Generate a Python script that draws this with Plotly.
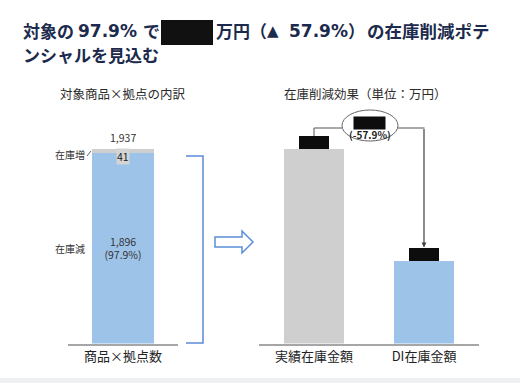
import plotly.graph_objects as go

# ---------------- data ----------------
left_category = ["商品×拠点数"]
left_decrease = [1896]        # 在庫減
left_increase = [41]          # 在庫増
left_total = [1937]
left_series_names = ["在庫減", "在庫増"]

right_categories = ["実績在庫金額", "DI在庫金額"]
right_values = [100.0, 42.1]  # index (actual amounts redacted in source)

title_line2 = "ンシャルを見込む"
left_subtitle = "対象商品×拠点の内訳"
right_subtitle = "在庫削減効果（単位：万円）"

# ---------------- helpers ----------------
W, H = 520, 383
JP = "Noto Sans CJK JP"
BLUE = "#9dc3e9"
GRAY = "#cfcfcf"
NAVY = "#1c2a4d"


def px(x):
    return x / W


def py(y):
    return 1 - y / H


base_px = 343.5
plot_h = 230.0
y_domain = [py(base_px), py(base_px - plot_h)]
left_max = left_total[0] * plot_h / 195.0
right_max = right_values[0] * plot_h / 195.0
pct_left = left_decrease[0] / left_total[0] * 100
pct_right = (right_values[1] / right_values[0] - 1) * 100

fig = go.Figure()

fig.add_trace(go.Bar(
    x=left_category, y=left_decrease, name=left_series_names[0],
    marker=dict(color=BLUE, line=dict(width=0)), width=0.56,
    text=[f"{left_decrease[0]:,}<br>({pct_left:.1f}%)"],
    textposition="inside", insidetextanchor="middle",
    textfont=dict(family=JP, size=10.5, color="#333333"),
    xaxis="x", yaxis="y", showlegend=False, hoverinfo="skip"))
fig.add_trace(go.Bar(
    x=left_category, y=left_increase, name=left_series_names[1],
    marker=dict(color=GRAY, line=dict(width=0)), width=0.56,
    xaxis="x", yaxis="y", showlegend=False, hoverinfo="skip"))
fig.add_trace(go.Bar(
    x=right_categories, y=right_values,
    marker=dict(color=[GRAY, BLUE], line=dict(width=0)), width=0.55,
    xaxis="x2", yaxis="y2", showlegend=False, hoverinfo="skip"))

axis_common = dict(showgrid=False, zeroline=False, ticks="",
                   showline=True, linecolor="#a6a6a6", linewidth=1.5,
                   tickfont=dict(family=JP, size=13, color="#222222"),
                   fixedrange=True)
fig.update_layout(
    width=W, height=H, margin=dict(l=0, r=0, t=0, b=0),
    paper_bgcolor="white", plot_bgcolor="rgba(0,0,0,0)",
    barmode="stack", hovermode=False,
    xaxis=dict(domain=[px(68), px(178)], range=[-0.5, 0.5], anchor="y", **axis_common),
    yaxis=dict(domain=y_domain, range=[0, left_max], visible=False, fixedrange=True),
    xaxis2=dict(domain=[px(259), px(479)], range=[-0.5, 1.5], anchor="y2", **axis_common),
    yaxis2=dict(domain=y_domain, range=[0, right_max], visible=False, fixedrange=True),
)

ann = []


def ptext(text, x, y, size, color, xanchor="left", bold=False, family=JP):
    t = f"<b>{text}</b>" if bold else text
    ann.append(dict(text=t, x=px(x), y=py(y), xref="paper", yref="paper",
                    xanchor=xanchor, yanchor="middle", showarrow=False,
                    font=dict(family=family, size=size, color=color)))


# title pieces
TS = 17
ptext("対象の", 21, 31, TS, NAVY, bold=True)
ptext("97.9%", 76, 31, TS, NAVY, bold=True, family="DejaVu Sans")
ptext("で", 141, 31, TS, NAVY, bold=True)
ptext("万円（", 214, 31, TS, NAVY, bold=True)
ptext("▲", 265, 31, TS - 2, NAVY, bold=True, family="DejaVu Sans")
ptext("57.9%", 287, 31, TS, NAVY, bold=True, family="DejaVu Sans")
ptext("）", 346, 31, TS, NAVY, bold=True)
ptext("の在庫削減ポテ", 365, 31, 17.5, NAVY, bold=True)
ptext(title_line2, 21, 55, TS, NAVY, bold=True)

# subtitles
ptext(left_subtitle, 123, 93, 12.5, "#2a2a2a", xanchor="center")
ptext(right_subtitle, 365, 93, 12.5, "#2a2a2a", xanchor="center")

# left chart labels
ann.append(dict(text=f"{left_total[0]:,}", x=left_category[0], y=left_total[0],
                xref="x", yref="y", yanchor="bottom", yshift=2, showarrow=False,
                font=dict(family=JP, size=10.5, color="#333333")))
ann.append(dict(text=f"{left_increase[0]}", x=left_category[0],
                y=left_decrease[0] + left_increase[0], xref="x", yref="y",
                yanchor="top", yshift=1, showarrow=False, bgcolor="#d4d4d4",
                borderpad=0, font=dict(family=JP, size=10.5, color="#222222")))
ptext(left_series_names[1], 70, 154, 10, "#333333", xanchor="center")
ptext(left_series_names[0], 70, 248, 10, "#333333", xanchor="center")

# right chart: redacted value boxes on top of bars
for cat, val in zip(right_categories, right_values):
    ann.append(dict(text=" ", x=cat, y=val, xref="x2", yref="y2",
                    yanchor="bottom", showarrow=False, bgcolor="#0d0d0d",
                    bordercolor="#0d0d0d", borderwidth=0, borderpad=0,
                    width=30, height=13, font=dict(size=8)))
# arrow down to DI box
ann.append(dict(text="", x=right_categories[1], y=right_values[1], xref="x2", yref="y2",
                ax=0, ay=-134, axref="pixel", ayref="pixel", showarrow=True,
                arrowhead=2, arrowsize=0.8, arrowwidth=1.2, arrowcolor="#404040",
                standoff=14))
# ellipse content
ann.append(dict(text=" ", x=px(369), y=py(116), xref="paper", yref="paper",
                xanchor="center", yanchor="top", showarrow=False, bgcolor="#0d0d0d",
                borderpad=0, width=31, height=12, font=dict(size=8)))
ptext(f"({pct_right:.1f}%)", 370, 134, 10, "#222222", xanchor="center", bold=True)

fig.update_layout(annotations=ann)

shapes = []
# title redaction box
shapes.append(dict(type="rect", xref="paper", yref="paper", x0=px(161), x1=px(213),
                   y0=py(45), y1=py(20), fillcolor="#111111", line=dict(width=0)))
# leader for 在庫増
shapes.append(dict(type="line", xref="paper", yref="paper", x0=px(87), y0=py(156),
                   x1=px(91), y1=py(151), line=dict(color="#666666", width=1)))
# bracket
shapes.append(dict(type="path", xref="paper", yref="paper",
                   path=f"M {px(186)},{py(156)} L {px(203)},{py(156)} L {px(203)},{py(343)} L {px(186)},{py(343)}",
                   line=dict(color="#5b8bd6", width=1.5)))
# hollow arrow
pts = [(215, 237), (242, 237), (242, 231), (253, 242), (242, 253), (242, 247), (215, 247)]
path = "M " + " L ".join(f"{px(a)},{py(b)}" for a, b in pts) + " Z"
shapes.append(dict(type="path", xref="paper", yref="paper", path=path,
                   fillcolor="white", line=dict(color="#5b8fd8", width=1.5)))
# ellipse
shapes.append(dict(type="circle", xref="paper", yref="paper", x0=px(342), x1=px(398),
                   y0=py(141), y1=py(110), line=dict(color="#666666", width=1)))
# connectors
shapes.append(dict(type="path", xref="paper", yref="paper",
                   path=f"M {px(314)},{py(136)} L {px(314)},{py(128)} L {px(342)},{py(128)}",
                   line=dict(color="#555555", width=1)))
shapes.append(dict(type="path", xref="paper", yref="paper",
                   path=f"M {px(398)},{py(128)} L {px(424.5)},{py(128)}",
                   line=dict(color="#555555", width=1)))
# bottom strip
shapes.append(dict(type="rect", xref="paper", yref="paper", x0=0, x1=1,
                   y0=0, y1=py(378), fillcolor="#eef0f2", line=dict(width=0)))
fig.update_layout(shapes=shapes)

fig.write_html("out.html", config={"displayModeBar": False},
               post_script="document.body.style.margin='0';document.body.style.overflow='hidden';")
